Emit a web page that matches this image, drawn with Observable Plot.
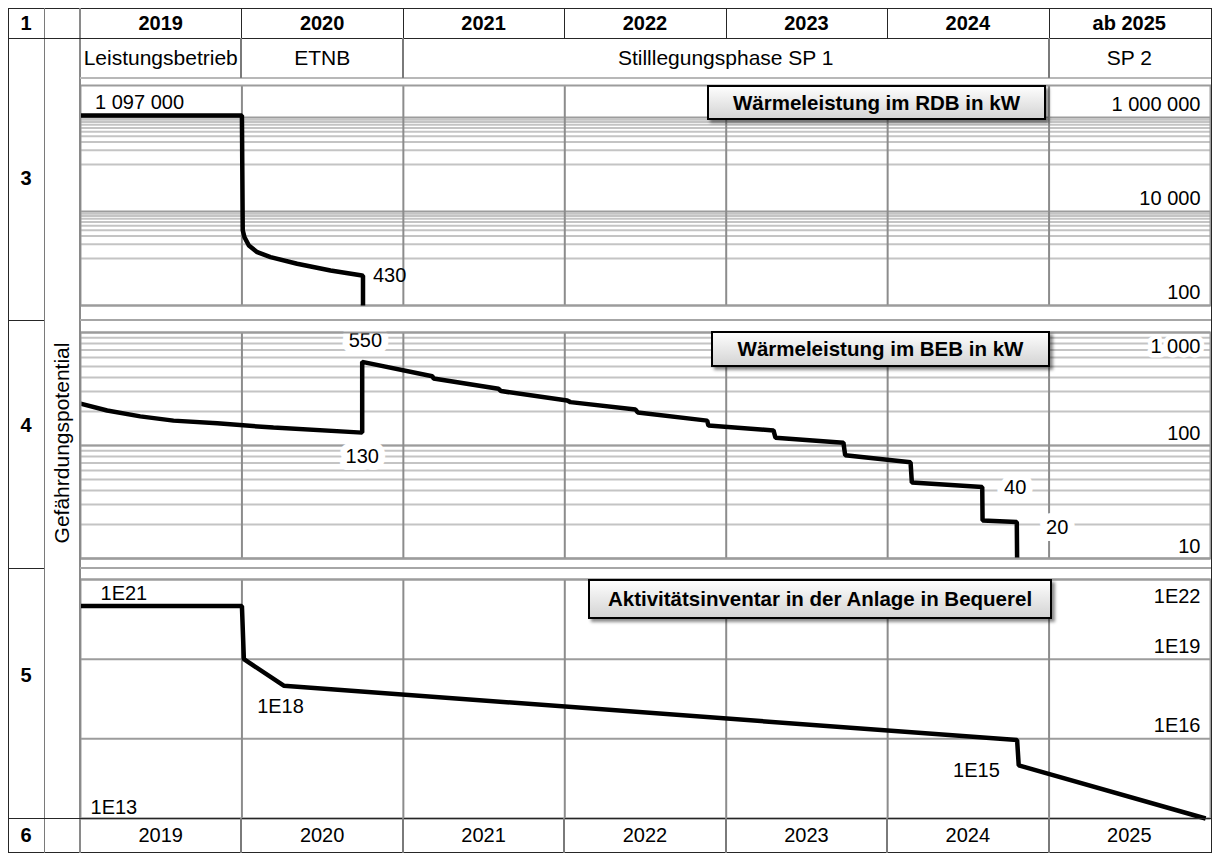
<!DOCTYPE html>
<html><head><meta charset="utf-8">
<script src="https://cdn.jsdelivr.net/npm/d3@7"></script>
<script src="https://cdn.jsdelivr.net/npm/@observablehq/plot@0.6"></script>
<style>
body{margin:0;background:#fff;font-family:"Liberation Sans",Arial,Helvetica,sans-serif;}
#root{position:relative;width:1213px;height:854px;overflow:hidden;background:#fff;}
.ln{position:absolute;}
.cell{position:absolute;display:flex;align-items:center;justify-content:center;font-size:21px;color:#000;white-space:nowrap;}
.panel{position:absolute;left:80px;}
.panel svg{display:block;}
.box{position:absolute;box-sizing:border-box;border:2px solid #000;background:linear-gradient(#fdfdfd,#d4d4d4);box-shadow:3px 3px 3px rgba(0,0,0,.45);font-weight:bold;font-size:20.5px;display:flex;align-items:center;justify-content:center;white-space:nowrap;color:#000;}
</style></head><body><div id="root"></div>
<script>
// ---------------- data ----------------
const yearStarts = [2019, 2020, 2021, 2022, 2023, 2024, 2025];
const headerLabels = ["2019", "2020", "2021", "2022", "2023", "2024", "ab 2025"];
const footerLabels = ["2019", "2020", "2021", "2022", "2023", "2024", "2025"];
const phaseLabels = ["Leistungsbetrieb", "ETNB", "Stilllegungsphase SP 1", "SP 2"];
const phaseStarts = [2019, 2020, 2021, 2025];
const phaseEnds = [2020, 2021, 2025, 2026];
const rowNumbers = ["1", "3", "4", "5", "6"];
const sideLabel = "Gefährdungspotential";
const panelTitles = ["Wärmeleistung im RDB in kW", "Wärmeleistung im BEB in kW", "Aktivitätsinventar in der Anlage in Bequerel"];

// Wärmeleistung im RDB (kW)
const rdbYear = [2019.0, 2020.0, 2020.005, 2020.016, 2020.043, 2020.095, 2020.177, 2020.342, 2020.549, 2020.735, 2020.75, 2020.75];
const rdbKW   = [1097000, 1097000, 4000, 2840, 1890, 1360, 1067, 771, 556, 440, 430, 100];
const rdbTicks = [1e6, 1e4, 1e2];
const rdbNoteText = ["1 097 000", "430"];
const rdbNoteYear = [2019.09, 2020.75];
const rdbNoteValue = [1097000, 430];

// Wärmeleistung im BEB (kW)
const bebYear = [2019.0, 2019.165, 2019.37, 2019.576, 2019.847, 2020.195, 2020.745, 2020.745, 2021.179, 2021.187, 2021.589, 2021.605, 2022.015, 2022.035, 2022.438, 2022.452, 2022.882, 2022.89, 2023.293, 2023.305, 2023.726, 2023.737, 2024.142, 2024.15, 2024.586, 2024.588, 2024.8, 2024.802];
const bebKW   = [235, 204, 181, 166, 157, 144, 130, 550, 410, 392, 318, 303, 250, 242, 208, 196, 166, 150, 136, 117, 106, 82, 71, 47, 43, 21.7, 21, 10];
const bebTicks = [1000, 100, 10];
const bebNoteText = ["550", "130", "40", "20"];
const bebNoteYear = [2020.765, 2020.745, 2024.79, 2025.05];
const bebNoteValue = [550, 130, 40, 20];

// Aktivitätsinventar (Bq)
const actYear = [2019.0, 2020.0, 2020.012, 2020.259, 2024.802, 2024.812, 2025.97];
const actBq   = [1e21, 1e21, 1e19, 1e18, 9e15, 1e15, 1e13];
const actTicks = [1e22, 1e19, 1e16];
const actNoteText = ["1E21", "1E18", "1E15", "1E13"];
const actNoteYear = [2019.124, 2020.239, 2024.55, 2019.062];
const actNoteValue = [1e21, 1e18, 1e15, 1e13];

// ---------------- helpers ----------------
const FONT = '"Liberation Sans", Arial, Helvetica, sans-serif';
const root = document.getElementById("root");
const W = 1130, X0 = 80;
const gridMinor = "#c4c4c4", gridMajor = "#9c9c9c", gridVert = "#8c8c8c";
const LW = 4.5;
const loc = d3.formatLocale({decimal: ",", thousands: " ", grouping: [3], currency: ["", " €"]});
const fmtK = loc.format(",");
const fmtE = v => "1E" + Math.round(Math.log10(v));
const halo = {stroke: "white", strokeWidth: 14, paintOrder: "stroke", strokeLinejoin: "round"};
const haloSmall = {stroke: "white", strokeWidth: 9, paintOrder: "stroke", strokeLinejoin: "round"};
const baseStyle = {fontFamily: FONT, fontSize: "20px", background: "transparent", overflow: "visible", color: "black"};
const xOpt = {domain: [2019, 2026], range: [0, W], axis: null};

function note(texts, years, values, i, opts) {
  return Plot.text([i], {x: [years[i]], y: [values[i]], text: [texts[i]], fill: "black", fontSize: 20, ...opts});
}
function tickLabels(ticks, fmt, topDy, otherDy, extra = {}) {
  return [
    Plot.text([ticks[0]], {y: d => d, frameAnchor: "right", textAnchor: "end", dx: -10, dy: topDy, text: fmt, fill: "black", fontSize: 20, ...extra}),
    Plot.text(ticks.slice(1), {y: d => d, frameAnchor: "right", textAnchor: "end", dx: -10, dy: otherDy, text: fmt, fill: "black", fontSize: 20})
  ];
}
function place(svg, top) {
  const d = document.createElement("div");
  d.className = "panel"; d.style.top = top + "px";
  d.appendChild(svg); root.appendChild(d);
}
const decadeMinor = (base) => d3.range(1, 10).map(k => k * base);
const lineOpts = {stroke: "black", strokeWidth: LW, strokeLinejoin: "miter", strokeLinecap: "butt"};

// ---------------- panel 1: RDB ----------------
const p1 = Plot.plot({
  width: W, height: 242, marginLeft: 0, marginRight: 0, marginTop: 7, marginBottom: 15,
  style: baseStyle, x: xOpt,
  y: {type: "log", domain: [100, 1e6], range: [227, 39], axis: null},
  marks: [
    Plot.ruleY([...decadeMinor(1e5), ...decadeMinor(1e3)], {stroke: gridMinor, strokeWidth: 2}),
    Plot.ruleY(rdbTicks, {stroke: gridMajor, strokeWidth: 2}),
    Plot.ruleX(yearStarts.slice(1), {stroke: gridVert, strokeWidth: 2}),
    Plot.frame({stroke: gridMajor, strokeWidth: 2}),
    Plot.line(rdbKW, {x: rdbYear, y: rdbKW, ...lineOpts}),
    ...tickLabels(rdbTicks, fmtK, -13, -13),
    note(rdbNoteText, rdbNoteYear, rdbNoteValue, 0, {textAnchor: "start", dy: -13}),
    note(rdbNoteText, rdbNoteYear, rdbNoteValue, 1, {textAnchor: "start", dx: 10, dy: 0})
  ]
});
place(p1, 78);
const xs = p1.scale("x");
const px = t => X0 + xs.apply(t);

// ---------------- panel 2: BEB ----------------
const p2 = Plot.plot({
  width: W, height: 248, marginLeft: 0, marginRight: 0, marginTop: 12, marginBottom: 10,
  style: baseStyle, x: xOpt,
  y: {type: "log", domain: [10, 1000], range: [238, 12], axis: null},
  marks: [
    Plot.ruleY([...decadeMinor(100), ...decadeMinor(10)], {stroke: gridMinor, strokeWidth: 2}),
    Plot.ruleY(bebTicks, {stroke: gridMajor, strokeWidth: 2}),
    Plot.ruleX(yearStarts.slice(1), {stroke: gridVert, strokeWidth: 2}),
    Plot.line(bebKW, {x: bebYear, y: bebKW, ...lineOpts}),
    ...tickLabels(bebTicks, fmtK, 14, -12, haloSmall),
    note(bebNoteText, bebNoteYear, bebNoteValue, 0, {textAnchor: "middle", dy: -21, ...halo}),
    note(bebNoteText, bebNoteYear, bebNoteValue, 1, {textAnchor: "middle", dy: 24, ...halo}),
    note(bebNoteText, bebNoteYear, bebNoteValue, 2, {textAnchor: "middle", dy: -3, ...halo}),
    note(bebNoteText, bebNoteYear, bebNoteValue, 3, {textAnchor: "middle", dy: 3, ...halo}),
    Plot.frame({stroke: gridMajor, strokeWidth: 2})
  ]
});
place(p2, 320);

// ---------------- panel 3: Aktivität ----------------
const p3 = Plot.plot({
  width: W, height: 250, marginLeft: 0, marginRight: 0, marginTop: 11, marginBottom: 0,
  style: baseStyle, x: xOpt,
  y: {type: "log", domain: [1e13, 1e22], range: [250, 11], axis: null},
  marks: [
    Plot.ruleY([1e13, ...actTicks], {stroke: gridMajor, strokeWidth: 2}),
    Plot.ruleX(yearStarts.slice(1), {stroke: gridVert, strokeWidth: 2}),
    Plot.frame({stroke: gridMajor, strokeWidth: 2}),
    Plot.line(actBq, {x: actYear, y: actBq, ...lineOpts}),
    ...tickLabels(actTicks, fmtE, 17, -13),
    note(actNoteText, actNoteYear, actNoteValue, 0, {textAnchor: "start", dy: -12}),
    note(actNoteText, actNoteYear, actNoteValue, 1, {textAnchor: "middle", dy: 21}),
    note(actNoteText, actNoteYear, actNoteValue, 2, {textAnchor: "middle", dy: 5}),
    note(actNoteText, actNoteYear, actNoteValue, 3, {textAnchor: "start", dy: -11})
  ]
});
place(p3, 568);

// ---------------- table frame ----------------
function rect(x, y, w, h, color) {
  const d = document.createElement("div"); d.className = "ln";
  Object.assign(d.style, {left: x + "px", top: y + "px", width: w + "px", height: h + "px", background: color});
  root.appendChild(d);
}
function cell(text, x1, x2, y1, y2, extra = {}) {
  const d = document.createElement("div"); d.className = "cell"; d.textContent = text;
  Object.assign(d.style, {left: x1 + "px", top: y1 + "px", width: (x2 - x1) + "px", height: (y2 - y1) + "px"}, extra);
  root.appendChild(d);
}
const dark = "#262626", mid = "#7a7a7a";
const R = Math.round(px(2026)) + 1;
rect(8, 8, R - 8 + 1, 1, dark);          // top
rect(8, 8, 1, 845, dark);                // left
rect(R, 8, 1, 845, dark);                // right
rect(8, 852, R - 8 + 1, 1, dark);        // bottom
rect(44, 8, 1, 845, mid);
rect(79, 8, 2, 845, "#8a8a8a");
rect(8, 38, R - 8, 1, dark);
rect(80, 77, R - 80, 2, "#b8b8b8");
rect(8, 320, 36, 1, dark); rect(80, 319, R - 80, 2, "#a6a6a6");
rect(8, 568, 36, 1, dark); rect(80, 567, R - 80, 2, "#a6a6a6");
rect(8, 818, R - 8, 1, dark);
yearStarts.slice(1).forEach(t => {
  const x = Math.round(px(t));
  rect(x, 8, 1, 30, dark);
  rect(x - 1, 818, 2, 35, mid);
});
phaseStarts.slice(1).forEach(t => rect(Math.round(px(t)) - 1, 38, 2, 40, mid));

// header / phase / footer texts
yearStarts.forEach((t, i) => {
  cell(headerLabels[i], px(t), px(t + 1), 8, 38, {fontWeight: "bold", fontSize: "20px"});
  cell(footerLabels[i], px(t), px(t + 1), 818, 852, {fontSize: "20px"});
});
phaseLabels.forEach((s, i) => cell(s, px(phaseStarts[i]), px(phaseEnds[i]), 38, 77));

// row numbers
const rowCenters = [23, 178, 425, 675, 835];
rowNumbers.forEach((s, i) => cell(s, 8, 44, rowCenters[i] - 12, rowCenters[i] + 12, {fontWeight: "bold", fontSize: "20px"}));

// rotated side label
cell(sideLabel, 62 - 120, 62 + 120, 443 - 14, 443 + 14, {transform: "rotate(-90deg)"});

// panel title boxes
const boxes = [
  {x1: 707, x2: 1046, y1: 85, y2: 120},
  {x1: 711, x2: 1050, y1: 331, y2: 367},
  {x1: 588, x2: 1052, y1: 579, y2: 619}
];
panelTitles.forEach((s, i) => {
  const b = boxes[i];
  const d = document.createElement("div"); d.className = "box"; d.textContent = s;
  Object.assign(d.style, {left: b.x1 + "px", top: b.y1 + "px", width: (b.x2 - b.x1) + "px", height: (b.y2 - b.y1) + "px"});
  root.appendChild(d);
});
</script></body></html>
